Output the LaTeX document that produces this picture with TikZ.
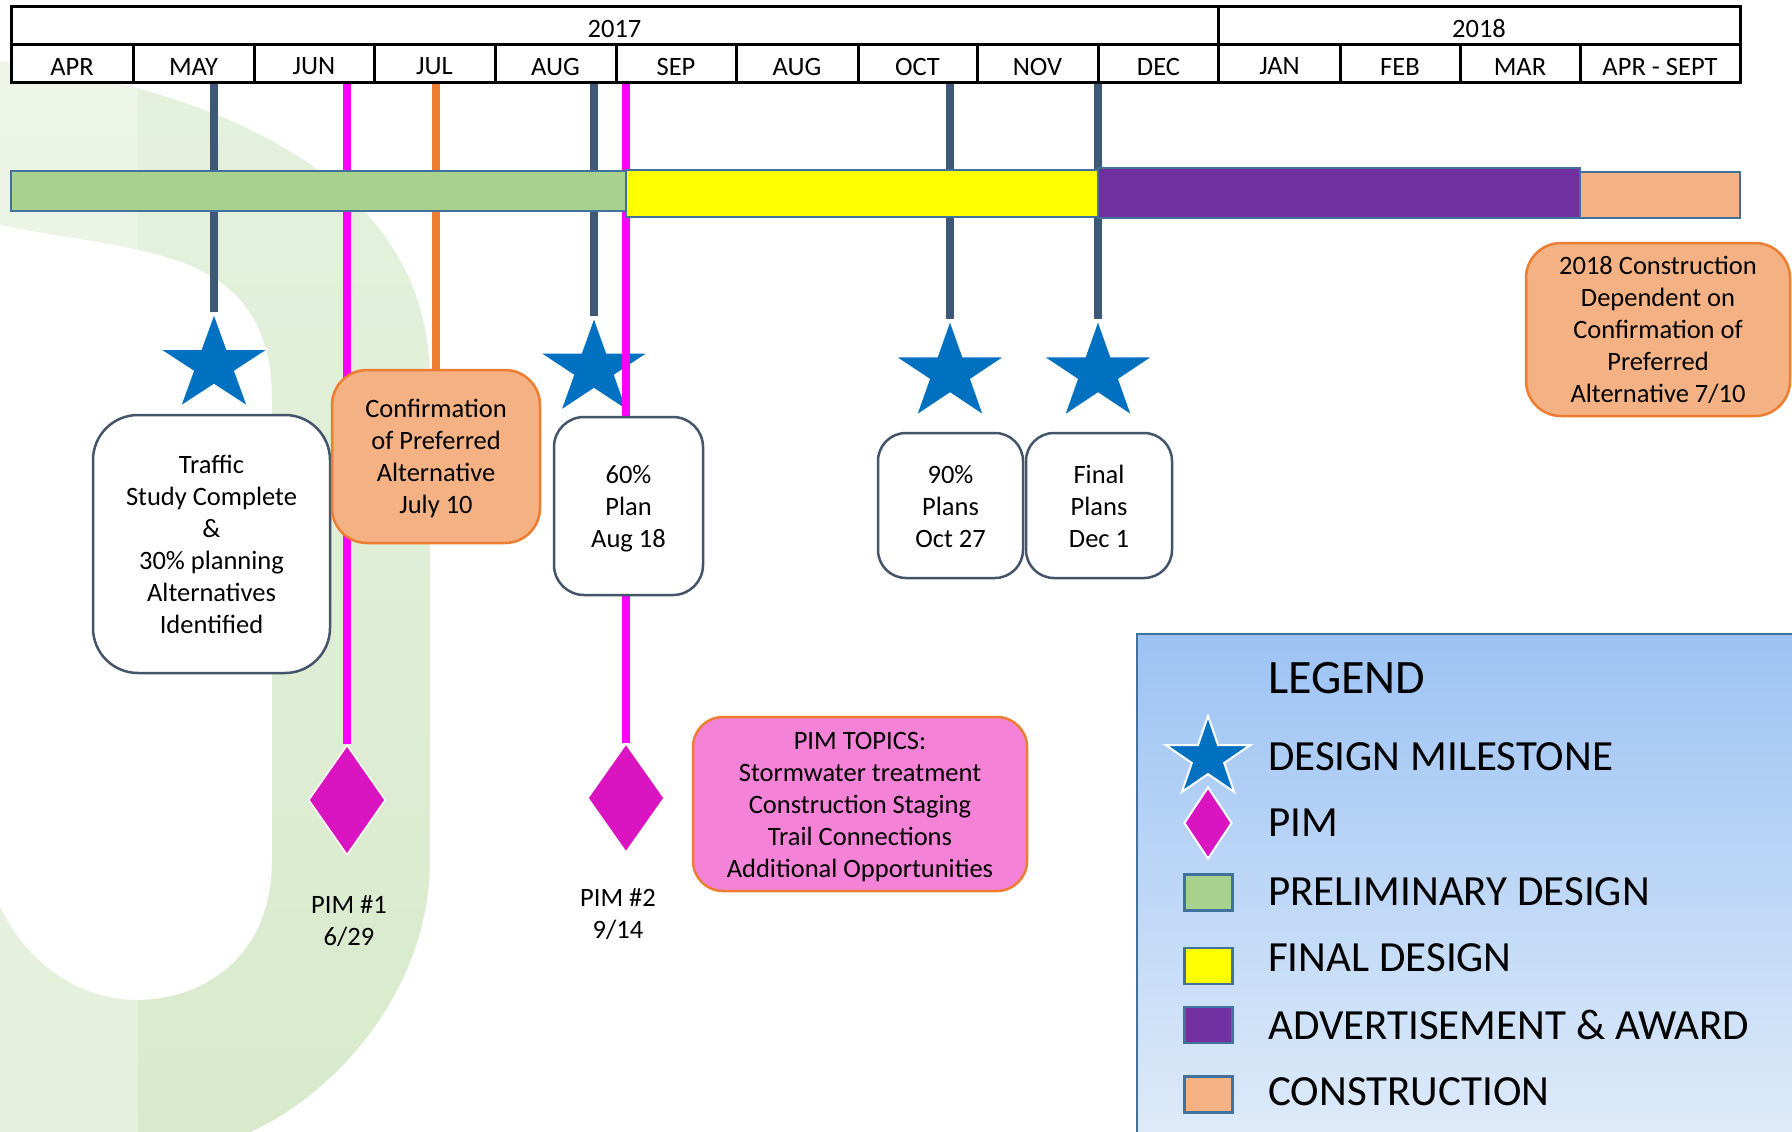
\documentclass[tikz,border=0pt]{standalone}
\usepackage{fontspec}
\setmainfont{Carlito}
\usetikzlibrary{shapes.geometric}
\pgfdeclarelayer{wmlayer}
\pgfdeclarelayer{linelayer}
\pgfsetlayers{wmlayer,linelayer,main}
\definecolor{slate}{HTML}{3E5877}
\definecolor{boxslate}{HTML}{44546A}
\definecolor{barblue}{HTML}{41719C}
\definecolor{pgreen}{HTML}{A9D18E}
\definecolor{fyellow}{HTML}{FFFF00}
\definecolor{apurple}{HTML}{7030A0}
\definecolor{cpeach}{HTML}{F4B183}
\definecolor{corange}{HTML}{ED7D31}
\definecolor{mline}{HTML}{FF00FF}
\definecolor{starblue}{HTML}{0070C0}
\definecolor{pimmag}{HTML}{DA14C0}
\definecolor{pinkbox}{HTML}{F482D6}
\definecolor{wmtop}{HTML}{E5F1DE}
\definecolor{wmbot}{HTML}{D9EACC}
\definecolor{legtop}{HTML}{9DC3F4}
\definecolor{legbot}{HTML}{DEEBF9}
\tikzset{
  txt/.style={font=\fontsize{26.5pt}{32pt}\selectfont, align=center, inner sep=0pt},
  legtxt/.style={font=\fontsize{43pt}{48pt}\selectfont, anchor=west, inner sep=0pt},
  vline/.style={line width=7.5pt},
  hdr/.style={line width=3pt, draw=black},
  barbox/.style={draw=barblue, line width=2.5pt},
  mstar/.style={star, star points=5, star point ratio=2.618, fill=starblue, draw=white, line width=1.2pt, inner sep=0pt, transform shape},
  mdia/.style={diamond, fill=pimmag, draw=white, line width=1.5pt, inner sep=0pt},
  wbox/.style={rectangle, draw=boxslate, line width=2.5pt, fill=white, rounded corners=#1, inner sep=0pt},
  obox/.style={rectangle, draw=corange, line width=2.5pt, fill=cpeach, rounded corners=#1, inner sep=0pt},
  legsq/.style={rectangle, draw=barblue, line width=2.5pt, minimum width=48pt, minimum height=36pt, inner sep=0pt},
}
\begin{document}
\begin{tikzpicture}[x=1pt,y=-1pt]
\useasboundingbox (0,0) rectangle (1792,1132);
\begin{pgfonlayer}{wmlayer}
\fill[white] (0,0) rectangle (1792,1132);
% watermark
\shade[top color=wmtop, bottom color=wmbot, even odd rule]
  (-10,60) .. controls (200,85) and (430,170) .. (430,380) -- (430,860)
  .. controls (430,1000) and (320,1110) .. (230,1140) -- (-10,1140) -- cycle
  (-10,222) .. controls (120,255) and (272,235) .. (272,400) -- (272,860)
  .. controls (272,960) and (200,1000) .. (137,1000)
  .. controls (70,1000) and (10,950) .. (-10,880) -- cycle;
\fill[white, opacity=0.3] (-10,0) rectangle (138,1140);
% legend box
\shade[top color=legtop, bottom color=legbot] (1137,634) rectangle (1800,1140);
\draw[barblue, line width=2.5pt] (1137,1140) -- (1137,634) -- (1800,634);
\end{pgfonlayer}

% bars
\draw[barbox, fill=pgreen] (11,171) rectangle (626,211);
\draw[barbox, fill=fyellow] (626,170) rectangle (1098,217);
\draw[barbox, fill=apurple] (1098,168) rectangle (1580,218);
\draw[barbox, fill=cpeach] (1580,172) rectangle (1740,218);

% header
\fill[white] (11,7) rectangle (1740,83);
\draw[hdr] (11,7) rectangle (1740,83);
\draw[hdr] (11,45) -- (1740,45);
\draw[hdr] (1218,7) -- (1218,83);
\foreach \x in {133,254,374,495,616,736,858,977,1098,1340,1460,1580}
  \draw[hdr] (\x,45) -- (\x,83);
\node[txt] (y2017) at (614.5,28.5) {2017};
\node[txt] (y2018) at (1479,28.5) {2018};
\foreach \m/\x [count=\i] in {APR/72,MAY/193.5,JUN/314,JUL/434.5,AUG/555.5,SEP/676,AUG/797,OCT/917.5,NOV/1037.5,DEC/1158.5,JAN/1279.5,FEB/1400,MAR/1520,APR - SEPT/1660}
  \node[txt] (m\i) at (\x,66.5) {\m};

% boxes
\node[wbox=45pt, minimum width=237pt, minimum height=258pt] (traffic) at (211.5,544) {};
\node[txt] (trafficT) at (traffic.center)
  {Traffic\\Study Complete\\\&\\30\% planning\\Alternatives\\Identified};
\node[obox=35pt, minimum width=208pt, minimum height=173pt] (conf) at (436,456.5) {};
\node[txt] (confT) at ([yshift=-2.3pt]conf.center)
  {Confirmation\\of Preferred\\Alternative\\July 10};
\node[wbox=30pt, minimum width=149pt, minimum height=178pt] (plan60) at (628.5,506) {};
\node[txt] (plan60T) at ([yshift=-2.3pt]plan60.center) {60\%\\Plan\\Aug 18};
\node[wbox=28pt, minimum width=145pt, minimum height=145pt] (plan90) at (950.5,505.5) {};
\node[txt] (plan90T) at ([yshift=-1pt]plan90.center) {90\%\\Plans\\Oct 27};
\node[wbox=28pt, minimum width=146pt, minimum height=145pt] (final) at (1099,505.5) {};
\node[txt] (finalT) at ([yshift=-1pt]final.center) {Final\\Plans\\Dec 1};
\node[obox=35pt, minimum width=264pt, minimum height=173pt] (constr) at (1658,329.5) {};
\node[txt] (constrT) at (constr.center)
  {2018 Construction\\Dependent on\\Confirmation of\\Preferred\\Alternative 7/10};
\node[obox=30pt, fill=pinkbox, minimum width=334pt, minimum height=174pt] (topics) at (860,804) {};
\node[txt] (topicsT) at ([yshift=-3.5pt]topics.center)
  {PIM TOPICS:\\Stormwater treatment\\Construction Staging\\Trail Connections\\Additional Opportunities};

% diamonds
\node[mdia, minimum width=77pt, minimum height=110pt] (pim1) at (347,800) {};
\node[mdia, minimum width=77pt, minimum height=109pt] (pim2) at (626,798) {};

% PIM labels
\node[txt] (l1) at (349,921) {PIM \#1\\6/29};
\node[txt] (l2) at (618,914) {PIM \#2\\9/14};

% stars and connectors behind bars and boxes
\coordinate (cMay) at (214,365);
\coordinate (cAug) at (594,369);
\coordinate (cOct) at (950,373);
\coordinate (cDec) at (1098,373);
\coordinate (cLeg) at (1208,758);
\coordinate (tMay) at (214,83);
\coordinate (tJun) at (347,83);
\coordinate (tJul) at (436,83);
\coordinate (tAug) at (594,83);
\coordinate (tSep) at (626,83);
\coordinate (tOct) at (950,83);
\coordinate (tDec) at (1098,83);
\begin{pgfonlayer}{linelayer}
\node[mstar, minimum size=102.5pt, xscale=1.115] (sMay) at (cMay) {};
\node[mstar, minimum size=103pt, xscale=1.1] (sAug) at (cAug) {};
\node[mstar, minimum size=105pt, xscale=1.09] (sOct) at (cOct) {};
\node[mstar, minimum size=105pt, xscale=1.09] (sDec) at (cDec) {};
\draw[vline, slate] (tMay) -- (sMay.north);
\draw[vline, slate] (tAug) -- (sAug.north);
\draw[vline, slate] (tOct) -- (sOct.north);
\draw[vline, slate] (tDec) -- (sDec.north);
\draw[vline, corange] (tJul) -- (conf.north);
\draw[vline, mline] (tJun) -- (pim1.north);
\draw[vline, mline] (tSep) -- (pim2.north);
\end{pgfonlayer}

% legend
\node[legtxt, font=\fontsize{48pt}{52pt}\selectfont] (legT) at (1268,678) {LEGEND};
\node[mstar, minimum size=84pt, xscale=1.06, line width=2pt] (legS) at (cLeg) {};
\node[mdia, minimum width=48pt, minimum height=72pt, line width=2pt] (legD) at (1208,823) {};
\node[legsq, fill=pgreen] (legG) at (1208.5,892.5) {};
\node[legsq, fill=fyellow] (legY) at (1208.5,966) {};
\node[legsq, fill=apurple] (legP) at (1208.5,1025) {};
\node[legsq, fill=cpeach] (legC) at (1208.5,1094.5) {};
\node[legtxt] (lt1) at (1268,757) {DESIGN MILESTONE};
\node[legtxt] (lt2) at (1268,823) {PIM};
\node[legtxt] (lt3) at (1268,892) {PRELIMINARY DESIGN};
\node[legtxt] (lt4) at (1268,958) {FINAL DESIGN};
\node[legtxt] (lt5) at (1268,1025) {ADVERTISEMENT \& AWARD};
\node[legtxt] (lt6) at (1268,1092) {CONSTRUCTION};
\end{tikzpicture}
\end{document}
